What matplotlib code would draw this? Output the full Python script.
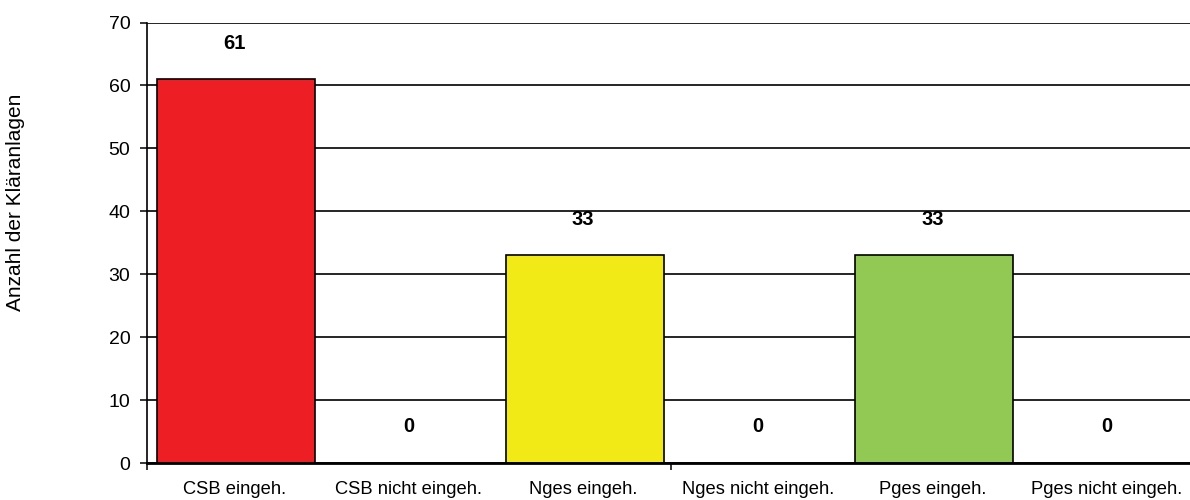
"""Bar chart: Einhaltung der Ablaufwerte (CSB, Nges, Pges) je Kläranlage."""

import matplotlib.pyplot as plt
from matplotlib.ticker import FixedLocator

plt.rcParams["font.family"] = ["Liberation Sans", "DejaVu Sans"]

categories = [
    "CSB eingeh.",
    "CSB nicht eingeh.",
    "Nges eingeh.",
    "Nges nicht eingeh.",
    "Pges eingeh.",
    "Pges nicht eingeh.",
]
counts = [61, 0, 33, 0, 33, 0]
bar_colors = ["#ED1F24", "#FFFFFF", "#F2EA17", "#FFFFFF", "#92C955", "#FFFFFF"]
y_ticks = [0, 10, 20, 30, 40, 50, 60, 70]

fig = plt.figure(figsize=(11.9, 5.0), dpi=100)
ax = fig.add_axes([147 / 1190, 37 / 500, 1047 / 1190, 440.5 / 500])

x = list(range(len(categories)))
ax.bar(
    [xi + 0.01 for xi in x],
    counts,
    width=0.91,
    color=bar_colors,
    edgecolor=["black" if c > 0 else "none" for c in counts],
    linewidth=1.2,
    zorder=3,
)

for xi, value in zip(x, counts):
    ax.annotate(
        f"{value}",
        xy=(xi, value),
        xytext=(0, 26),
        textcoords="offset points",
        ha="center",
        va="center",
        fontsize=14.5,
        fontweight="bold",
    )

ax.set_xlim(-0.5, len(categories) - 0.5)
ax.set_ylim(0, 70)
ax.set_yticks(y_ticks)
ax.yaxis.grid(True, color="black", linewidth=1.2, zorder=0)
ax.set_axisbelow(True)

ax.set_xticks(x)
ax.set_xticklabels(categories, fontsize=13.2)
ax.tick_params(axis="x", which="major", length=0, pad=13)
ax.xaxis.set_minor_locator(FixedLocator([-0.5, 2.5]))
ax.tick_params(axis="x", which="minor", length=5, width=1.1, direction="out")
ax.tick_params(axis="y", labelsize=14, length=5, width=1.1, pad=7)

for side in ("top", "right"):
    ax.spines[side].set_visible(False)
ax.spines["left"].set_linewidth(1.2)
ax.spines["bottom"].set_linewidth(2.0)
ax.spines["bottom"].set_zorder(4)

fig.text(
    0.013,
    0.596,
    "Anzahl der Kläranlagen",
    rotation=90,
    ha="center",
    va="center",
    fontsize=15,
)

fig.savefig("out.png", dpi=100)
plt.close(fig)
